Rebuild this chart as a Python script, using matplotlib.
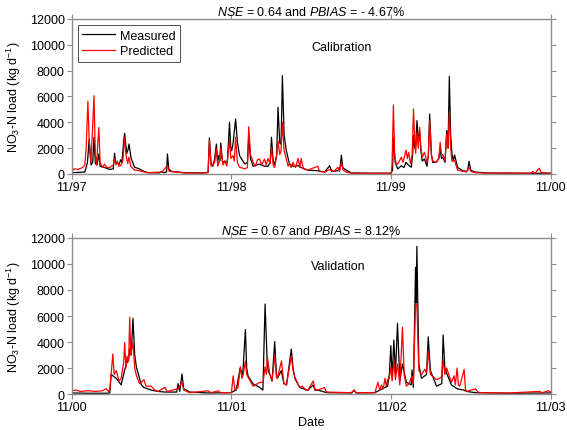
import numpy as np
import matplotlib
matplotlib.use("Agg")
import matplotlib.pyplot as plt

plt.rcParams['font.family'] = ['Liberation Sans', 'DejaVu Sans']
plt.rcParams['mathtext.fontset'] = 'custom'
plt.rcParams['mathtext.rm'] = 'Liberation Sans'
plt.rcParams['mathtext.it'] = 'Liberation Sans:italic'

# ---- Calibration period (days since 1997-11-01) ----
cal_meas_days = [0,14,30,36,40,44,48,51,54,58,62,65,75,87,95,98,101,104,108,112,115,119,121,124,126,129,131,136,144,155,165,174,200,206,210,217,219,222,228,258,300,312,315,319,323,327,331,334,336,339,341,345,350,356,361,364,366,369,375,379,384,396,402,405,409,415,430,441,449,454,457,461,464,469,472,476,479,482,486,491,498,506,518,525,540,563,579,590,595,609,614,617,620,628,640,685,731,734,736,740,746,754,760,765,770,777,780,782,785,787,790,793,796,799,802,807,813,816,819,823,826,834,840,843,846,849,854,858,861,864,867,870,873,876,883,895,903,906,909,913,922,952,1000,1055,1096]
cal_meas_vals = [100,120,150,900,2700,700,900,2850,800,700,1550,600,500,350,400,1600,800,900,700,1100,900,2600,3150,2200,1600,1900,2320,1200,520,390,200,100,80,200,100,150,1550,400,200,100,80,100,2790,700,600,1200,2320,900,1420,1000,2400,900,1000,900,4000,2000,1800,2320,4250,2500,1420,770,900,2960,1200,600,770,600,600,900,2840,1000,700,1500,5160,2400,2300,7610,3000,1810,800,600,640,500,300,250,150,640,200,250,500,1470,500,300,80,60,60,300,2800,900,390,640,500,900,700,520,1500,2970,2000,2190,4130,2500,3360,1800,1000,1160,600,1500,4640,1500,900,900,1200,1940,1200,1300,900,3360,2000,7560,3000,1550,1000,1470,500,250,200,300,980,300,150,80,60,50,60]

cal_pred_days = [0,5,14,25,30,33,37,40,44,47,51,54,57,59,62,65,70,75,80,87,95,98,101,104,108,112,117,121,124,128,131,135,144,155,174,206,219,223,258,300,312,315,319,327,331,334,338,341,346,350,355,361,364,369,372,375,379,384,396,402,405,409,415,420,425,430,435,441,445,449,454,457,461,464,469,472,476,479,482,486,491,495,498,502,506,512,518,522,525,530,540,563,567,579,590,600,609,613,617,621,628,640,685,731,733,736,739,742,746,754,758,765,768,771,775,779,782,785,787,790,793,796,799,802,807,813,816,819,823,826,834,840,843,846,849,854,858,861,864,867,870,876,883,903,909,913,922,952,1000,1050,1055,1060,1070,1074,1096]
cal_pred_vals = [150,400,350,500,700,2000,5630,2500,900,3000,6060,1500,700,2000,3600,900,500,770,500,500,700,1200,700,1000,600,640,1000,2840,1500,800,1300,600,300,250,100,150,650,200,80,60,150,2580,600,900,1930,600,1000,2000,700,1000,600,2700,1200,1420,1000,2840,900,520,400,500,3660,1500,900,600,1100,1160,700,1160,700,1200,800,2060,700,500,1400,2580,1500,1800,4000,1800,1160,600,800,500,900,500,1200,500,1200,400,300,600,200,150,350,200,520,200,900,300,150,60,50,60,800,5340,1500,800,770,1290,900,1860,1200,1680,800,1500,5030,2500,1600,3230,2000,3610,2000,1300,1680,900,1400,4130,1500,1000,900,1200,2450,1500,1500,1000,3100,2000,4770,2000,1000,1030,300,150,520,200,100,60,80,60,200,60,450,100,60]

# ---- Validation period (days since 2000-11-01) ----
val_meas_days = [0,37,79,87,90,94,102,113,121,126,130,133,136,140,144,148,159,165,182,197,213,220,240,243,247,252,256,270,312,365,369,376,385,391,397,400,403,414,430,437,442,447,450,453,458,464,468,470,479,485,491,502,506,510,521,540,552,556,563,578,586,640,646,650,693,716,722,726,729.5,732.5,736.4,740,744.7,750,756,765,771,776,778,781,786,787.5,789,793.5,799.6,807,811,815,820,834,846,849,853,857,868,881,897,902,923,1000,1095]
val_meas_vals = [80,60,60,80,1500,1400,1200,700,1850,2400,2700,3500,3000,5820,3000,2050,700,500,300,200,150,150,150,800,200,1540,400,150,80,100,200,300,2000,1500,4950,2000,1400,800,500,300,6920,2300,1700,1500,1000,4030,1500,1200,1800,800,700,3460,2000,1200,500,300,700,300,300,150,100,80,300,80,100,500,600,1500,3720,1200,4150,1500,5440,1000,2300,900,800,700,1850,500,9740,7000,11360,2300,1200,1400,1500,4400,1800,600,800,4540,2000,1600,700,400,300,200,100,60,80]

val_pred_days = [0,10,20,37,55,70,79,84,87,94,97,102,108,113,119,121,124,126.5,130,132.6,135,136.4,140,144,148,155,159,165,170,182,190,197,213,218,243,252,256,270,312,318,335,340,365,369,373,380,385.7,389,392,397,400,403,414.7,430,437.5,442,445,447.5,452.8,458,464,468,470,479.5,485,491,502,506,510,521,527,535,540,552,556,563,578,582,639,645,650,693,700,704,708,712,716,719,722,726,729.5,732.5,736.4,740,744.7,750,756,760,765,771,778,781,786,789,793.5,799.6,807,811,815,820,834,846,849,853,857,868,874,877,881,884,887,897,900,902.5,923,930,1000,1070,1075,1089,1095]
val_pred_vals = [250,300,200,250,200,250,400,200,300,3080,1500,1800,1000,1200,2500,3970,2000,2900,2500,5900,3000,3300,3970,2000,1400,800,900,1100,600,600,300,200,500,200,400,900,300,100,250,100,250,100,100,1400,300,500,2100,1200,1500,2540,1500,1300,600,900,900,2100,1500,2820,1500,1000,2940,1300,1200,2540,800,700,2940,1800,1300,500,600,300,300,1000,400,300,500,150,100,300,100,100,900,300,700,400,1200,600,1100,1200,2100,1000,2660,1100,2300,700,5130,1500,600,800,1400,800,6920,6900,1800,1500,1900,1600,3270,1500,1100,1300,2660,1500,2000,900,1400,700,2000,700,600,1900,400,200,400,100,80,200,80,250,150]

cal_ticks = [0, 365, 730, 1096]
cal_ticklabels = ['11/97', '11/98', '11/99', '11/00']
val_ticks = [0, 365, 730, 1095]
val_ticklabels = ['11/00', '11/01', '11/02', '11/03']
yticks = [0, 2000, 4000, 6000, 8000, 10000, 12000]

fig = plt.figure(figsize=(5.67, 4.31), dpi=100)
ax1 = fig.add_axes([0.1265, 0.594, 0.8448, 0.3596])
ax2 = fig.add_axes([0.1265, 0.0835, 0.8448, 0.362])

spine_col = '#8c8c8c'
fs = 9

def style(ax, ticks, labels, xmax):
    ax.set_xlim(0, xmax)
    ax.set_ylim(0, 12000)
    ax.set_yticks(yticks)
    ax.set_xticks(ticks)
    ax.set_xticklabels(labels, fontsize=fs)
    ax.tick_params(axis='both', direction='out', length=3.5, width=0.8,
                   color=spine_col, labelsize=fs, pad=1.5,
                   top=True, right=True, labeltop=False, labelright=False)
    for s in ax.spines.values():
        s.set_color(spine_col)
        s.set_linewidth(1.0)
    ax.set_ylabel(r'NO$_3$-N load (kg d$^{-1}$)', fontsize=fs, labelpad=5)

ax1.plot(cal_meas_days, cal_meas_vals, color='black', lw=0.9, label='Measured')
ax1.plot(cal_pred_days, cal_pred_vals, color='#ff0000', lw=0.9, label='Predicted')
style(ax1, cal_ticks, cal_ticklabels, 1096)
ax1.set_title(r'$\it{NSE}$ = 0.64 and $\it{PBIAS}$ = - 4.67%', fontsize=fs, pad=3)
ax1.text(0.5, 0.82, 'Calibration', transform=ax1.transAxes, fontsize=fs,
         ha='left', va='center')
leg = ax1.legend(loc='upper left', fontsize=fs, frameon=True, fancybox=False,
                 handlelength=2.6, borderpad=0.35, labelspacing=0.3,
                 handletextpad=0.4, borderaxespad=0.5)
leg.get_frame().set_edgecolor('black')
leg.get_frame().set_linewidth(0.6)

ax2.plot(val_meas_days, val_meas_vals, color='black', lw=0.9)
ax2.plot(val_pred_days, val_pred_vals, color='#ff0000', lw=0.9)
style(ax2, val_ticks, val_ticklabels, 1095)
ax2.set_title(r'$\it{NSE}$ = 0.67 and $\it{PBIAS}$ = 8.12%', fontsize=fs, pad=3)
ax2.text(0.5, 0.82, 'Validation', transform=ax2.transAxes, fontsize=fs,
         ha='left', va='center')
ax2.set_xlabel('Date', fontsize=fs, labelpad=2)

fig.savefig('out.png', dpi=100)
